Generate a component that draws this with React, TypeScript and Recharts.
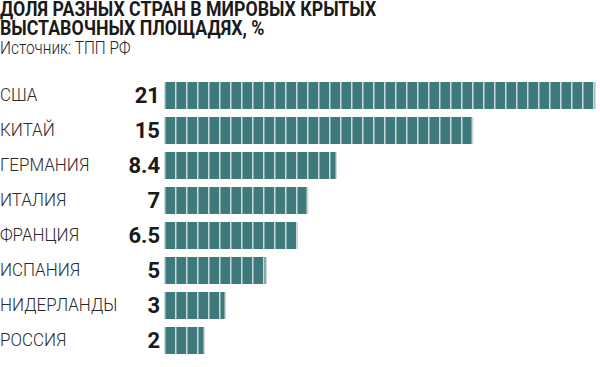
import React from "react"
import { BarChart, Bar, XAxis, YAxis, LabelList } from "recharts"

// ─── Data ────────────────────────────────────────────────────────────────────
const countries = ["США", "КИТАЙ", "ГЕРМАНИЯ", "ИТАЛИЯ", "ФРАНЦИЯ", "ИСПАНИЯ", "НИДЕРЛАНДЫ", "РОССИЯ"]
const shares = [21, 15, 8.4, 7, 6.5, 5, 3, 2]
const shareLabels = ["21", "15", "8.4", "7", "6.5", "5", "3", "2"]

const data = countries.map((name, i) => ({ name, value: shares[i], label: shareLabels[i] }))

const TEAL = "#3e7a7c"
const SEP = "#cbdada"
const STEP = 11

// ─── Segmented bar ───────────────────────────────────────────────────────────
function SegmentedBar(props: any) {
  const x = Math.round(Number(props.x))
  const y = Number(props.y)
  const width = Math.round(Number(props.width))
  const height = Number(props.height)
  const lines = []
  for (let i = 0; i * STEP <= width; i++) {
    lines.push(<rect key={i} x={x + i * STEP} y={y} width={1.5} height={height} fill={SEP} />)
  }
  return (
    <g>
      <rect x={x} y={y} width={width} height={height} fill={TEAL} />
      {lines}
      <rect x={x + width - 1.5} y={y} width={1.5} height={height} fill={SEP} />
    </g>
  )
}

function CountryTick({ y, payload }: any) {
  return (
    <text x={0} y={y} dy={6} textAnchor="start" fontSize={17.5} fill="#2a2a2a" fontFamily="Roboto, sans-serif" fontWeight={300} transform={`translate(0 ${y}) scale(0.97 1) translate(0 ${-y})`}>
      {payload.value}
    </text>
  )
}

const titleLine = {
  fontSize: 19.5,
  fontWeight: 700,
  height: 19,
  lineHeight: "19px",
  color: "#1a1a1a",
  transform: "scaleX(0.91)",
  transformOrigin: "0 0",
  whiteSpace: "nowrap" as const,
}

export default function App() {
  return (
    <div style={{ position: "absolute", left: 0, top: 0, width: 600, height: 367, background: "#fff", overflow: "hidden" }}>
      <div style={{ position: "absolute", left: 0, top: 0, fontFamily: "Roboto, sans-serif" }}>
        <div style={titleLine}>ДОЛЯ РАЗНЫХ СТРАН В МИРОВЫХ КРЫТЫХ</div>
        <div style={titleLine}>ВЫСТАВОЧНЫХ ПЛОЩАДЯХ, %</div>
        <div
          style={{
            fontSize: 17.5,
            fontWeight: 300,
            color: "#222",
            marginTop: 0,
            lineHeight: "20px",
            transform: "scaleX(0.88)",
            transformOrigin: "0 0",
            whiteSpace: "nowrap",
          }}
        >
          Источник: ТПП РФ
        </div>
      </div>
      <div style={{ position: "absolute", left: 0, top: 0 }}>
        <BarChart
          width={600}
          height={367}
          data={data}
          layout="vertical"
          margin={{ top: 78, right: 4, bottom: 9, left: 0 }}
          barCategoryGap={4}
        >
          <XAxis type="number" domain={[0, 21]} hide />
          <YAxis
            type="category"
            dataKey="name"
            width={164}
            axisLine={false}
            tickLine={false}
            tick={<CountryTick />}
          />
          <Bar dataKey="value" shape={<SegmentedBar />} isAnimationActive={false}>
            <LabelList
              dataKey="label"
              position="left"
              offset={4}
              fill="#1a1a1a"
              fontSize={22}
              fontWeight={700}
              fontFamily="Roboto, sans-serif"
            />
          </Bar>
        </BarChart>
      </div>
    </div>
  )
}
